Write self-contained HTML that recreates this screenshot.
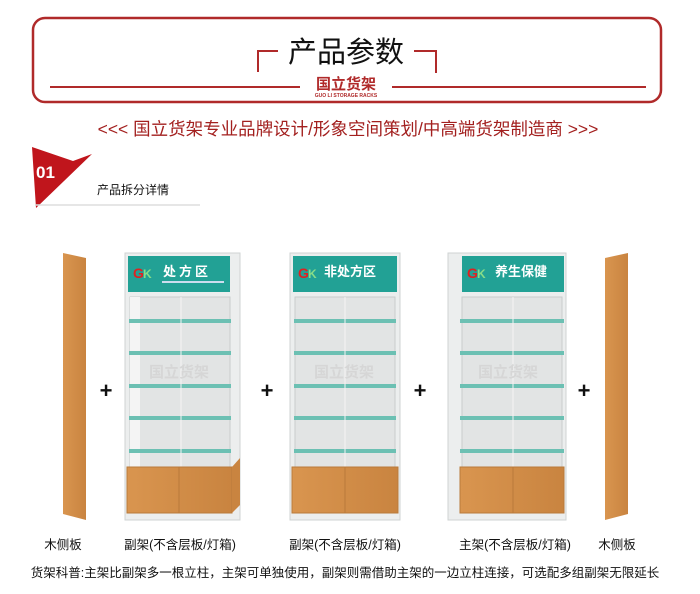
<!DOCTYPE html>
<html><head><meta charset="utf-8"><style>
html,body{margin:0;padding:0;background:#fff;width:700px;height:594px;overflow:hidden}
svg{display:block;font-family:"Liberation Sans","Noto Sans CJK SC",sans-serif}
</style></head><body>
<svg width="700" height="594" viewBox="0 0 700 594" xmlns="http://www.w3.org/2000/svg">
<defs>
<linearGradient id="wood" x1="0" x2="1"><stop offset="0" stop-color="#d9954f"/><stop offset="1" stop-color="#c98440"/></linearGradient>
</defs>
<rect x="33" y="18" width="628" height="84" rx="12" fill="none" stroke="#b02a2a" stroke-width="2.5"/>
<polyline points="258,72 258,51 278,51" fill="none" stroke="#b02a2a" stroke-width="2"/>
<polyline points="414,51 436,51 436,73" fill="none" stroke="#b02a2a" stroke-width="2"/>
<text x="346" y="62" text-anchor="middle" font-size="29" fill="#111">产品参数</text>
<line x1="50" y1="87" x2="300" y2="87" stroke="#b02a2a" stroke-width="2"/>
<line x1="392" y1="87" x2="646" y2="87" stroke="#b02a2a" stroke-width="2"/>
<text x="346" y="89" text-anchor="middle" font-size="15" font-weight="bold" fill="#b02a2a">国立货架</text>
<text x="346" y="97" text-anchor="middle" font-size="5" font-weight="bold" fill="#b02a2a">GUO LI STORAGE RACKS</text>
<text x="348" y="135" text-anchor="middle" font-size="17.5" fill="#a3201f">&lt;&lt;&lt; 国立货架专业品牌设计/形象空间策划/中高端货架制造商 &gt;&gt;&gt;</text>
<polygon points="32,147 73,161 92,154 36,208" fill="#c0151c"/>
<text x="36" y="178" font-size="17" font-weight="bold" fill="#fff">01</text>
<text x="97" y="194" font-size="12" fill="#111">产品拆分详情</text>
<line x1="35" y1="205" x2="200" y2="205" stroke="#ddd" stroke-width="1.5"/>

<polygon points="63,253 86,258 86,520 63,514" fill="url(#wood)"/>
<polygon points="605,258 628,253 628,514 605,520" fill="url(#wood)"/>

<g transform="translate(125,253)">
<rect x="0" y="0" width="115" height="267" fill="#eceeee" stroke="#cfd3d3"/>
<rect x="3" y="3" width="102" height="36" fill="#22a195"/>
<text x="8" y="25" font-size="14" font-weight="bold" fill="#d22">G</text><text x="18" y="25" font-size="12" font-weight="bold" fill="#8d8">K</text>
<text x="38" y="23" font-size="13" font-weight="bold" fill="#fff" letter-spacing="3">处方区</text>
<rect x="37" y="28" width="62" height="2" fill="#cde"/>
<rect x="5" y="44" width="100" height="170" fill="#e2e4e4" stroke="#c9cccc"/>
<rect x="5" y="44" width="10" height="170" fill="#f4f4f4"/>
<g fill="#6cc0b3"><rect x="4" y="66" width="102" height="4"/><rect x="4" y="98" width="102" height="4"/><rect x="4" y="131" width="102" height="4"/><rect x="4" y="163" width="102" height="4"/><rect x="4" y="196" width="102" height="4"/></g>
<line x1="56" y1="44" x2="56" y2="214" stroke="#f5f5f5"/>
<text x="54" y="124" text-anchor="middle" font-size="15" font-weight="bold" fill="#d6d6d6">国立货架</text>
<rect x="2" y="214" width="105" height="46" fill="url(#wood)" stroke="#b97a3b"/>
<line x1="54" y1="214" x2="54" y2="260" stroke="#b97a3b"/>
<polygon points="107,214 115,205 115,252 107,260" fill="#c98440"/>
</g>
<g transform="translate(290,253)">
<rect x="0" y="0" width="110" height="267" fill="#eceeee" stroke="#cfd3d3"/>
<rect x="3" y="3" width="104" height="36" fill="#22a195"/>
<text x="8" y="25" font-size="14" font-weight="bold" fill="#d22">G</text><text x="18" y="25" font-size="12" font-weight="bold" fill="#8d8">K</text>
<text x="34" y="23" font-size="13" font-weight="bold" fill="#fff">非处方区</text>
<rect x="5" y="44" width="100" height="170" fill="#e2e4e4" stroke="#c9cccc"/>
<g fill="#6cc0b3"><rect x="4" y="66" width="102" height="4"/><rect x="4" y="98" width="102" height="4"/><rect x="4" y="131" width="102" height="4"/><rect x="4" y="163" width="102" height="4"/><rect x="4" y="196" width="102" height="4"/></g>
<line x1="55" y1="44" x2="55" y2="214" stroke="#f5f5f5"/>
<text x="54" y="124" text-anchor="middle" font-size="15" font-weight="bold" fill="#d6d6d6">国立货架</text>
<rect x="2" y="214" width="106" height="46" fill="url(#wood)" stroke="#b97a3b"/>
<line x1="55" y1="214" x2="55" y2="260" stroke="#b97a3b"/>
</g>
<g transform="translate(448,253)">
<rect x="0" y="0" width="118" height="267" fill="#eceeee" stroke="#cfd3d3"/>
<rect x="14" y="3" width="102" height="36" fill="#22a195"/>
<text x="19" y="25" font-size="14" font-weight="bold" fill="#d22">G</text><text x="29" y="25" font-size="12" font-weight="bold" fill="#8d8">K</text>
<text x="47" y="23" font-size="13" font-weight="bold" fill="#fff">养生保健</text>
<rect x="14" y="44" width="100" height="170" fill="#e2e4e4" stroke="#c9cccc"/>
<g fill="#6cc0b3"><rect x="12" y="66" width="104" height="4"/><rect x="12" y="98" width="104" height="4"/><rect x="12" y="131" width="104" height="4"/><rect x="12" y="163" width="104" height="4"/><rect x="12" y="196" width="104" height="4"/></g>
<line x1="65" y1="44" x2="65" y2="214" stroke="#f5f5f5"/>
<text x="60" y="124" text-anchor="middle" font-size="15" font-weight="bold" fill="#d6d6d6">国立货架</text>
<rect x="12" y="214" width="104" height="46" fill="url(#wood)" stroke="#b97a3b"/>
<line x1="65" y1="214" x2="65" y2="260" stroke="#b97a3b"/>
</g>
<g font-size="22" font-weight="bold" fill="#111" text-anchor="middle">
<text x="106" y="398">+</text><text x="267" y="398">+</text><text x="420" y="398">+</text><text x="584" y="398">+</text>
</g>
<g font-size="12.5" fill="#111" text-anchor="middle">
<text x="63" y="549">木侧板</text>
<text x="180" y="549">副架(不含层板/灯箱)</text>
<text x="345" y="549">副架(不含层板/灯箱)</text>
<text x="515" y="549">主架(不含层板/灯箱)</text>
<text x="617" y="549">木侧板</text>
</g>
<text x="345" y="577" text-anchor="middle" font-size="12.5" fill="#111">货架科普:主架比副架多一根立柱，主架可单独使用，副架则需借助主架的一边立柱连接，可选配多组副架无限延长</text>
</svg>
</body></html>
